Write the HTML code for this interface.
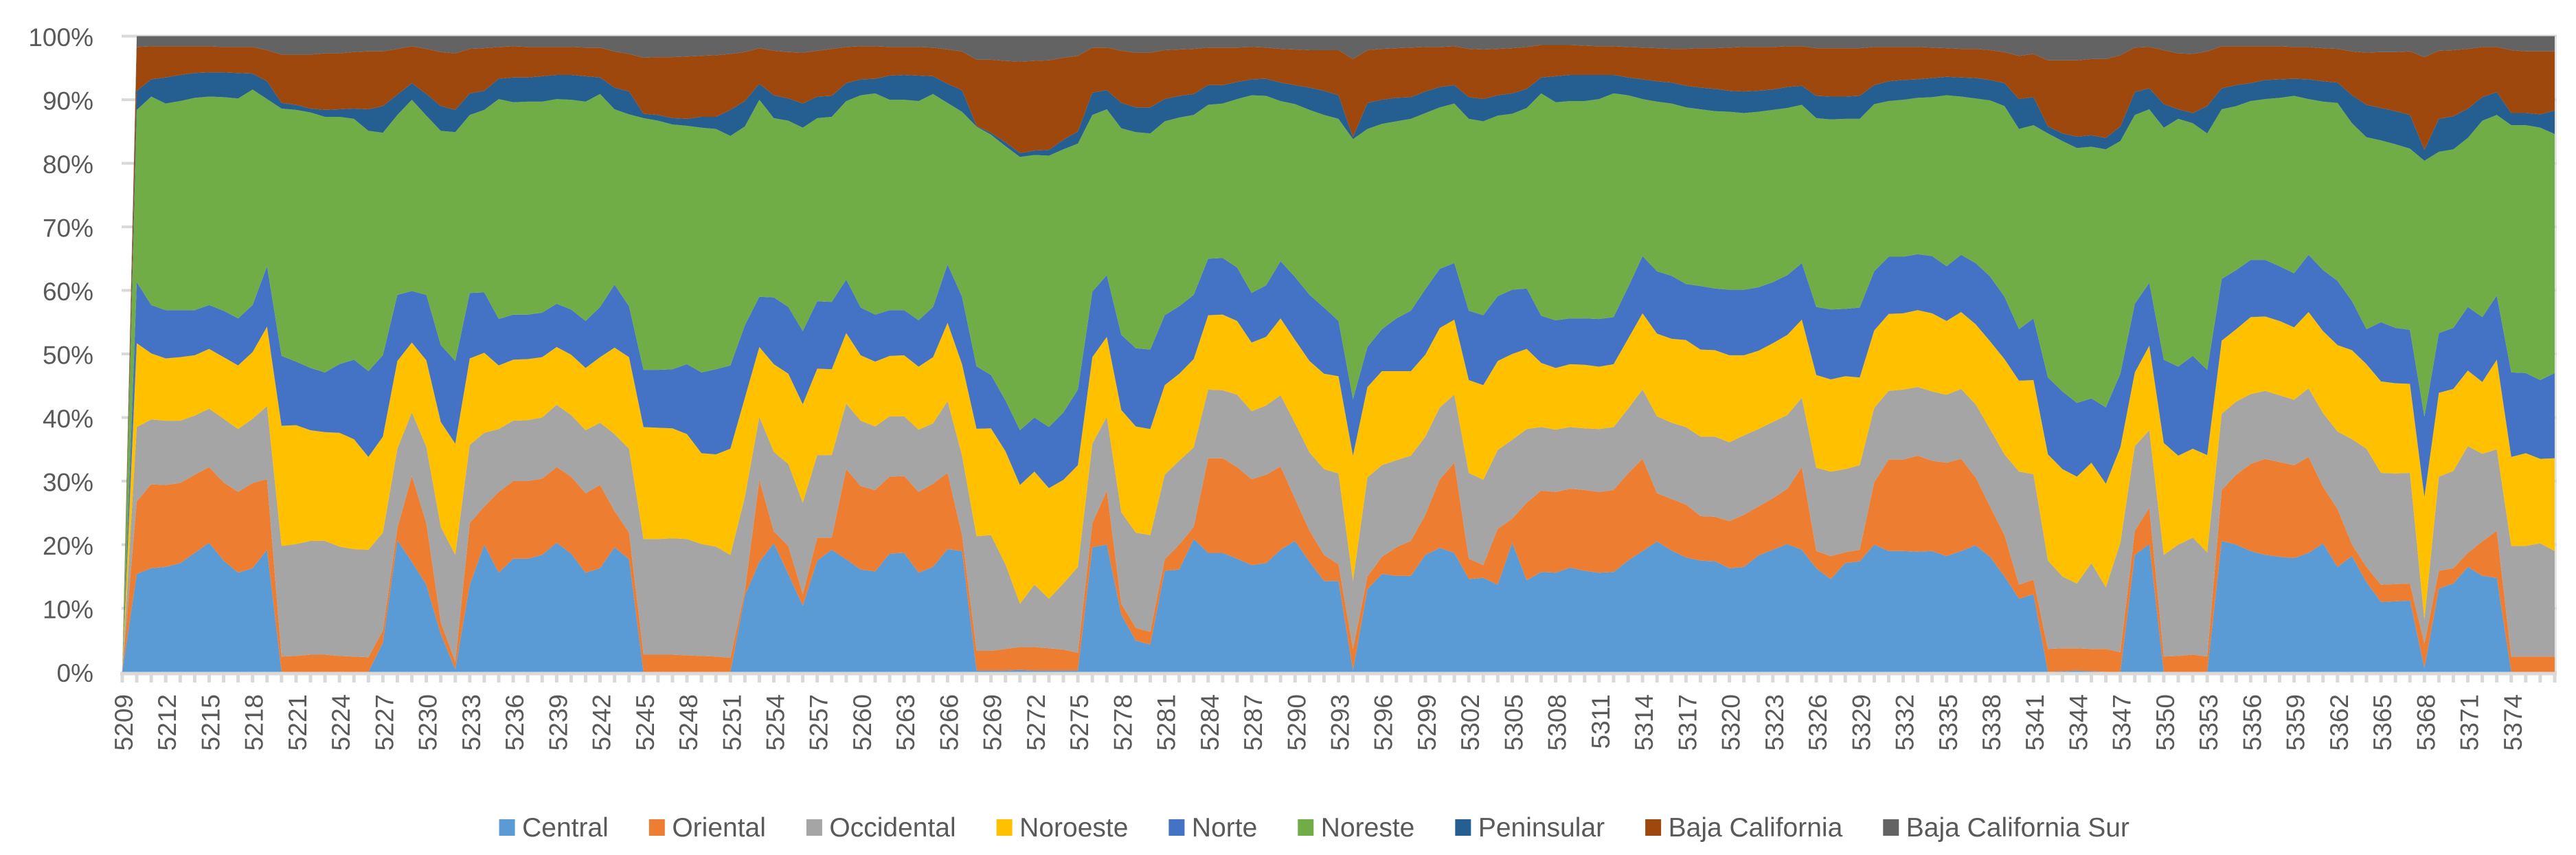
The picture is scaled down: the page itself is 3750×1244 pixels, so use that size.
<!DOCTYPE html>
<html lang="es">
<head>
<meta charset="utf-8">
<title>Regional share 100% stacked area chart</title>
<style>
html,body{margin:0;padding:0;background:#fff;width:3750px;height:1244px;overflow:hidden}
svg{display:block;font-family:"Liberation Sans",sans-serif}
</style>
</head>
<body>
<svg id="chart" xmlns="http://www.w3.org/2000/svg" width="3750" height="1244" viewBox="0 0 3750 1244"></svg>
<script>
const categories = [5209,5210,5211,5212,5213,5214,5215,5216,5217,5218,5219,5220,5221,5222,5223,5224,5225,5226,5227,5228,5229,5230,5231,5232,5233,5234,5235,5236,5237,5238,5239,5240,5241,5242,5243,5244,5245,5246,5247,5248,5249,5250,5251,5252,5253,5254,5255,5256,5257,5258,5259,5260,5261,5262,5263,5264,5265,5266,5267,5268,5269,5270,5271,5272,5273,5274,5275,5276,5277,5278,5279,5280,5281,5282,5283,5284,5285,5286,5287,5288,5289,5290,5291,5292,5293,5294,5295,5296,5297,5298,5299,5300,5301,5302,5303,5304,5305,5306,5307,5308,5309,5310,5311,5312,5313,5314,5315,5316,5317,5318,5319,5320,5321,5322,5323,5324,5325,5326,5327,5328,5329,5330,5331,5332,5333,5334,5335,5336,5337,5338,5339,5340,5341,5342,5343,5344,5345,5346,5347,5348,5349,5350,5351,5352,5353,5354,5355,5356,5357,5358,5359,5360,5361,5362,5363,5364,5365,5366,5367,5368,5369,5370,5371,5372,5373,5374,5375,5376,5377];
const seriesNames = ["Central","Oriental","Occidental","Noroeste","Norte","Noreste","Peninsular","Baja California","Baja California Sur"];
const seriesColors = ["#5B9BD5","#ED7D31","#A5A5A5","#FFC000","#4472C4","#70AD47","#255E91","#9E480E","#636363"];
const yTicks = [0,10,20,30,40,50,60,70,80,90,100];

const central = [0,15.4,16.3,16.5,17.1,18.7,20.3,17.5,15.6,16.3,19.2,0,0,0,0,0,0,0,4.6,20.7,17.3,13.7,5.9,.4,13.7,20,15.6,17.8,17.8,18.4,20.3,18.6,15.6,16.3,19.6,17.7,0,0,0,0,0,0,0,12,17.3,20.2,15.4,10.4,17.5,19.2,17.7,16.1,15.8,18.6,18.7,15.6,16.5,19.3,19,.2,.2,.2,.3,.2,.2,.2,.2,19.6,20,9,4.9,4.3,15.9,16.1,20.9,18.7,18.7,17.8,16.8,17.1,19.2,20.6,17.3,14.3,14.3,.2,13,15.4,15.1,15.1,18.4,19.5,18.7,14.6,14.8,13.7,20.3,14.4,15.7,15.6,16.4,15.9,15.6,15.7,17.5,19,20.5,19.1,18,17.5,17.4,16.3,16.5,18.3,19.2,20.1,19.2,16.3,14.6,17.1,17.4,20,19,19,18.9,19,18.2,19,19.9,18.1,15,11.5,12.2,0,.1,.2,.1,0,0,18.4,20.1,0,0,0,0,20.6,20,19,18.4,18.1,17.9,18.7,20.2,16.5,18.2,14.1,11,11.1,11.2,.6,13.1,13.9,16.5,15.1,14.8,0,0,0,0];
const oriental = [0,11.4,13.2,12.9,12.6,12.3,11.9,12.3,12.7,13.4,11.1,2.4,2.5,2.7,2.7,2.5,2.4,2.3,1.9,1.9,13.5,9.7,1.9,1.2,9.7,6,12.7,12.2,12.2,12,11.9,12.1,12.5,13.1,5.7,4.2,2.7,2.7,2.7,2.6,2.5,2.4,2.2,.7,12.9,1.9,4.4,1.8,3.6,1.9,14.2,13.1,12.8,12.1,12.1,12.7,13.1,12,2.5,3.1,3.1,3.4,3.6,3.7,3.5,3.3,2.8,3.8,8.5,1.7,2,2,1.8,3.9,1.9,14.9,14.9,14.4,13.5,13.9,13.1,6.6,4.9,4.1,2.6,3.4,2,2.7,4.5,5.5,6.3,10.8,14.2,3.2,2,8.8,3.8,12.2,12.8,12.7,12.4,12.7,12.7,12.9,13.7,14.5,7.6,8.1,8.3,7,7,7.4,8.2,7.7,8.1,8.7,13,2.7,3.6,1.7,1.8,9.8,14.4,14.4,15.1,14.2,14.7,14.5,10.7,7.9,6.5,2.2,2.3,3.6,3.6,3.5,3.5,3.6,3.1,3.8,5.7,2.4,2.5,2.7,2.4,8,11,13.7,15.1,14.9,14.6,15.1,8.9,9.1,1.8,2.4,2.7,2.7,2.7,3.8,2.8,2.4,2.2,5.4,7.4,2.4,2.4,2.4,2.4];
const occidental = [0,11.7,10.2,10.1,9.8,9.3,9.2,10,9.9,10.1,11.5,17.4,17.6,17.9,17.9,17.2,16.9,16.9,15.4,12.5,10,12,15,16.8,12.3,11.6,9.9,9.5,9.6,9.6,9.8,9.7,9.9,9.8,12.1,13.2,18.2,18.2,18.3,18.3,17.6,17.3,16.2,14.8,9.9,12.5,12.9,14.4,13,13,10.3,10.3,10,9.5,9.4,9.8,9.5,11.3,12.5,18,18.2,13.3,6.8,9.8,7.8,10.4,13.5,12.5,11.6,14.4,15,15.2,13.3,13.2,12.5,10.8,10.7,11.4,10.7,10.9,11.2,11.9,12.3,13.5,14.3,10.7,15.6,14.4,13.7,13.4,12.3,11.3,10.7,13.5,13.4,12.4,12.4,11.6,10,9.8,9.7,9.7,9.9,9.9,10.2,10.9,12.1,12,12.2,12.5,12.6,12.4,12.5,12.2,12,11.6,10.9,13.1,13.3,13.1,13.3,11.7,10.8,11,10.8,10.9,10.7,11,11.5,12.2,12.7,17.8,16.6,13.9,11.3,10.2,13.5,9.7,17.2,13.3,12.2,16,17.5,18.4,16.4,12,11.5,11,10.7,10.5,10.3,10.8,11.6,12.2,16.6,18.6,17.6,17.4,17.4,3.8,14.8,15.3,16.8,13.8,12.8,17.4,17.4,17.8,16.6];
const noroeste = [0,13.2,10.4,9.8,10,9.5,9.4,9.7,10,10.5,12.5,18.9,18.7,17.4,17.1,17.9,17.3,14.6,15.1,13.8,11,13.6,16.5,17.5,13.6,12.6,10,9.6,9.6,9.5,9.1,9.5,9.8,10.3,13.6,14.4,17.6,17.5,17.3,16.5,14.3,14.5,16.7,15.6,11,13.8,14.2,15.5,13.6,13.5,11.1,10.3,10.2,9.5,9.6,9.9,10.4,12.3,14.4,16.9,16.8,17.8,18.7,17.8,17.4,16.3,16,13.6,12.6,16.1,16.7,16.7,14.1,13.7,13.9,11.7,11.9,11.6,10.8,10.8,12.1,13.1,14.4,15,15.3,19.7,14.2,14.8,14,13.3,12.9,12.5,11.8,14.6,14.9,14,13.5,12.6,10.1,9.7,9.9,10,9.8,9.9,11,12,13,13.2,13.7,13.7,13.6,13.7,12.6,12.3,12.4,12.6,12.3,14.6,14.5,14.6,13.8,12.2,12.1,12,12.1,12.3,11.6,12.1,12.6,13.8,15,14.3,14.8,16.7,16.9,16.8,15.8,16.3,15,11.6,13.3,17.6,14,14,15.3,11.5,11.4,12.1,11.7,11.7,11.4,12,12.9,13.6,14,13.3,14.4,14.2,14,19.3,13.2,12.9,11.9,11.3,14.1,14,14.6,13.3,14.6];
const norte = [0,9.6,7.6,7.6,7.4,7.1,6.9,7.3,7.4,7.4,9.5,11,10,9.8,9.4,10.8,12.5,13.5,12.8,10.4,8.1,10.3,12.1,13,10.3,9.5,7.3,7.1,7,7,6.8,7.1,7.4,7.9,9.9,8,9,9.1,9.3,11,12.7,13.4,13.1,11.4,7.9,10.5,10.5,11.5,10.6,10.6,8.4,7.5,7.4,7.2,7.1,7.3,7.9,9.2,10.6,9.8,8.4,8,8.6,8.5,9.6,10.6,11.9,10.3,9.7,11.8,12.3,12.5,11,10.6,10.1,8.9,8.9,8.4,7.8,8.1,9,9.9,10.4,10.4,8.7,8.9,6.3,6.6,8.3,9.5,10.3,9.3,8.9,10.9,11,10.2,10.1,9.5,7.4,7.5,7.2,7.3,7.5,7.4,8.1,9,9.8,9.9,8.8,10,9.7,10.3,10.3,10,9.6,9.4,8.9,10.7,11,10.6,11,9.3,9,8.9,8.8,9,8.6,9,9.6,10.2,9.8,8.1,9.7,12.1,12.2,11.6,10.1,12,11.6,10.8,9.9,13.1,14,14.6,13.4,9.7,9.3,9,8.9,8.6,8.5,9,9.6,10.1,7.7,5.5,9.3,8.7,8.5,12.6,9.4,9.6,10,10.2,10.1,13.3,12.6,12.4,13.4];
const noreste = [0,27.1,32.8,32.5,32.9,33.4,32.8,33.6,34.6,33.9,26.3,38.9,39.6,40.2,40.2,38.9,37.9,37.8,35,28.3,30.1,28.2,33.7,36,28,28.7,34.6,33.4,33.5,33.2,32.2,33,34.5,33.5,27.6,30.2,39.6,39.2,38.5,37.5,38.5,37.8,36.1,31.3,31,28.2,29.3,32,28.8,29.1,28.1,33.4,34.8,33.1,33.1,34.5,33.5,25.4,29.1,37.7,37.8,40,43,41.3,42.7,41.4,38.7,27.8,26.1,32.5,34,34,30.5,29.7,28.3,24.2,24.3,26.5,31.1,29.8,25.2,27.2,29.1,30.3,31.8,40.9,34.3,32.3,31,30.2,27.7,25.4,25.1,30.2,30.5,28.4,27.7,28.4,35,34.3,34.2,34.2,34.6,35.2,30.2,24.7,26.7,27.1,27.8,27.8,27.9,28,27.8,27.6,27.1,26.3,24.9,29.7,29.9,29.9,29.7,26.3,24.5,24.7,24.6,25,26.9,24.9,25.9,27.7,30,31.5,30.4,38.4,39.4,40.1,39.6,40.6,36.6,29.7,27.3,36.5,39,36.6,37.2,26.7,25.8,25,25.3,26.5,27.9,24.5,26.5,28,28,30.2,28.6,28.9,28.5,40.3,28.5,28.1,26.6,30.9,28.4,38.9,39,39.7,37.6];
const peninsular = [0,3,2.7,4.1,4.1,3.9,3.8,3.9,4,2.5,2.8,.9,.8,.6,1.1,1.2,1.6,3.4,4.2,3.2,2.6,3.4,3.9,3.5,3.4,3,3.2,3.9,3.8,4,3.8,3.9,4,2.6,3.4,3.6,.7,.9,1,1.1,1.7,1.9,4.1,4,2.5,3.6,3.5,3.8,3.4,3.3,2.8,2.5,2.3,3.8,3.9,4,2.8,3,3.4,.1,.3,.6,.6,.7,.9,1.5,1.9,3.5,3,4,3.9,4.1,3.5,3.4,3.3,3.1,2.9,2.7,2.5,2.7,2.9,3,3.5,3.8,3.7,.3,4.1,3.8,3.7,3.4,3.4,3.2,2.9,3.4,3.5,3.2,3.2,3,2.5,4.1,4.1,4.1,3.8,2.9,2.8,3.1,3.2,3.3,3.4,3.4,3.5,3.3,3.4,3.3,3.2,3.3,3,3.5,3.6,3.5,3.6,3,3.1,3.1,2.9,3,2.9,3,3.2,3.2,3.6,4.7,4.4,1.1,1.2,1.8,1.8,1.8,2.3,3.6,3.3,3.7,1.5,1.6,4.3,3.3,3.3,2.8,3,2.9,2.7,3.1,3.2,3.2,4.4,5.1,5.1,5.2,5.3,1.7,5.2,5.2,4.6,3.7,3.6,1.9,1.9,2.1,3.7];
const bajaCalifornia = [0,6.9,5.2,4.9,4.5,4.2,4.1,4,4.1,4.2,4.9,7.6,7.9,8.5,8.9,8.8,8.9,9.1,8.6,7.2,5.8,7.1,8.5,8.9,7,6.7,5,4.9,4.8,4.6,4.4,4.4,4.5,4.7,5.7,5.9,8.8,9.1,9.6,9.8,9.6,9.7,8.8,7.7,5.6,7,7.3,8,7.2,7.4,5.7,5.2,5.1,4.5,4.4,4.5,4.5,5.4,6.1,10.4,11.5,12.8,14.4,14.1,14.1,12.9,11.9,7.1,6.7,8.2,8.6,8.6,7.7,7.3,7.1,5.9,5.9,5.4,5.1,4.9,5.3,5.6,5.9,6.4,7.1,12.3,8.3,8,7.8,7.8,7,6.3,6.1,7.6,7.8,7.3,7.1,6.6,5.1,4.9,4.7,4.6,4.5,4.5,4.8,5,5.2,5.3,5.8,6.2,6.4,6.8,7,6.9,6.7,6.4,6.2,7.5,7.6,7.6,7.5,6,5.4,5.2,5.1,4.8,4.5,4.5,4.6,4.7,4.9,6.8,6.8,10.4,11.5,12,12,12.4,11.2,7,6.5,8.5,8.8,9.3,8.6,6.6,6.1,5.8,5.3,5.2,5,5.1,5.2,5.3,6.9,8.2,8.8,9.3,10,14.6,10.7,10.4,9.4,7.9,7.1,9.9,9.7,9.9,9.3];
const bajaCaliforniaSur = [0,1.7,1.6,1.6,1.6,1.6,1.6,1.7,1.7,1.7,2.2,2.9,2.9,2.9,2.7,2.7,2.5,2.4,2.4,2,1.6,2,2.5,2.7,2,1.9,1.7,1.6,1.7,1.7,1.7,1.7,1.8,1.8,2.4,2.8,3.4,3.3,3.3,3.2,3.1,3,2.8,2.5,1.9,2.3,2.5,2.6,2.3,2,1.7,1.6,1.6,1.7,1.7,1.7,1.8,2.1,2.4,3.7,3.7,3.9,4,3.9,3.8,3.4,3.1,1.8,1.8,2.3,2.6,2.6,2.2,2.1,2,1.8,1.8,1.8,1.7,1.8,2,2.1,2.2,2.2,2.2,3.6,2.2,2,1.9,1.8,1.7,1.7,1.6,2,2.1,2,1.9,1.7,1.4,1.4,1.4,1.5,1.6,1.6,1.7,1.8,1.9,2,2,1.9,1.9,1.8,1.7,1.7,1.7,1.6,1.6,1.9,1.9,1.9,1.9,1.7,1.7,1.7,1.7,1.8,1.9,2,2,2.2,2.5,3.1,2.8,3.8,3.8,3.8,3.6,3.6,3,1.8,1.7,2.2,2.7,2.8,2.4,1.6,1.6,1.6,1.6,1.6,1.7,1.7,1.9,2,2.4,2.6,2.5,2.5,2.4,3.3,2.3,2.2,2,1.7,1.7,2.2,2.4,2.4,2.4];

const seriesValues = [central,oriental,occidental,noroeste,norte,noreste,peninsular,bajaCalifornia,bajaCaliforniaSur];

const SVG_NS = "http://www.w3.org/2000/svg";
const svg = document.getElementById("chart");
const plot = {left:178, right:3719, top:52.6, bottom:977.5};
const gridColor = "#D9D9D9";
const textColor = "#595959";

function xScale(i){ return plot.left + (plot.right - plot.left) * i / (categories.length - 1); }
function yScale(pct){ return plot.bottom - (plot.bottom - plot.top) * pct / 100; }
function make(tag, attrs, parent){
  const el = document.createElementNS(SVG_NS, tag);
  for (const k in attrs) el.setAttribute(k, attrs[k]);
  parent.appendChild(el);
  return el;
}

/* gridlines and y axis labels */
yTicks.forEach(function(t){
  const line = make("line", {x1:plot.left-1, x2:plot.right+3, y1:yScale(t), y2:yScale(t), stroke:gridColor, "stroke-width":4}, svg);
  
  
  const label = make("text", {x:136, y:yScale(t)+14.5, "text-anchor":"end", "font-size":37, fill:textColor}, svg);
  label.textContent = t + "%";
  
  
});

/* stacked areas */
const totals = categories.map(function(c, i){
  return seriesValues.reduce(function(s, arr){ return s + arr[i]; }, 0);
});
const running = categories.map(function(){ return 0; });
seriesValues.forEach(function(values, s){
  const lower = running.slice();
  values.forEach(function(v, i){
    running[i] += totals[i] > 0 ? v / totals[i] * 100 : 0;
  });
  let d = "";
  categories.forEach(function(c, i){
    d += (i ? "L" : "M") + xScale(i).toFixed(2) + " " + yScale(running[i]).toFixed(2);
  });
  for (let i = categories.length - 1; i >= 0; i--) {
    d += "L" + xScale(i).toFixed(2) + " " + yScale(lower[i]).toFixed(2);
  }
  const area = make("path", {d:d + "Z", fill:seriesColors[s]}, svg);
  
  
});

/* x axis */
const rightEdge = make("line", {x1:plot.right+1.5, x2:plot.right+1.5, y1:plot.top, y2:plot.bottom, stroke:gridColor, "stroke-width":2}, svg);


const axisLine = make("line", {x1:plot.left-3, x2:plot.right+3, y1:plot.bottom+2.5, y2:plot.bottom+2.5, stroke:gridColor, "stroke-width":5}, svg);


categories.forEach(function(c, i){
  const tick = make("line", {x1:xScale(i), x2:xScale(i), y1:plot.bottom, y2:993, stroke:gridColor, "stroke-width":5}, svg);
  
  
  if (i % 3 === 0 && i < categories.length - 2) {
    const lx = xScale(i) + 15;
    const label = make("text", {transform:"translate(" + lx + ",1010) rotate(-90)", "text-anchor":"end", "font-size":37, fill:textColor}, svg);
    label.textContent = String(c);
    
    
  }
});

/* legend */
const legend = make("g", {}, svg);


let legendX = 726.6;
seriesNames.forEach(function(name, s){
  const entry = make("g", {}, legend);
  
  
  const swatch = make("rect", {x:legendX, y:1192, width:23, height:24, fill:seriesColors[s]}, entry);
  
  
  const label = make("text", {x:legendX + 33.5, y:1217, "font-size":39, fill:textColor}, entry);
  label.textContent = name;
  
  
  legendX += 33.5 + label.getComputedTextLength() + 59;
});
</script>
</body>
</html>
